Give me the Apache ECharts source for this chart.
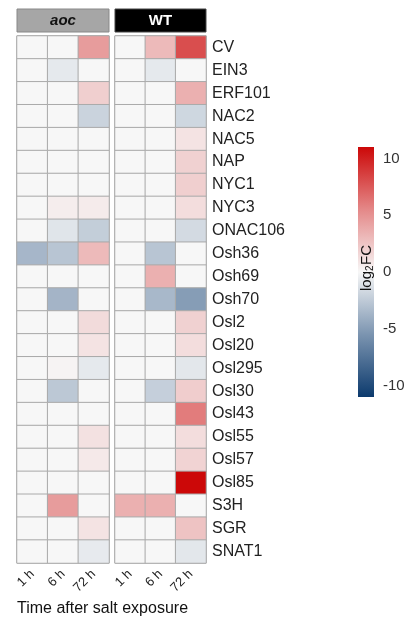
<!DOCTYPE html>
<html><head><meta charset="utf-8">
<script src="https://cdn.jsdelivr.net/npm/echarts@6/dist/echarts.min.js"></script>
<style>html,body{margin:0;padding:0;background:#fff}#c{width:408px;height:626px}</style>
</head><body><div id="c"></div>
<script>
const genes = ["CV","EIN3","ERF101","NAC2","NAC5","NAP","NYC1","NYC3","ONAC106","Osh36","Osh69","Osh70","Osl2","Osl20","Osl295","Osl30","Osl43","Osl55","Osl57","Osl85","S3H","SGR","SNAT1"];
const times = ["1 h","6 h","72 h"];
const panels = ["aoc","WT"];
// log2FC values per gene: [1 h, 6 h, 72 h]
const aocValues = [
  [0,0,4.5],[0,-0.8,0],[0,0,2],[0,0,-2],[0,0,0],[0,0,0],[0,0,0],[0,0.5,0.6],[0,-1,-2.3],
  [-3.6,-2.8,3],[0,0,0],[0,-3.7,0],[0,0,1.4],[0,0,1],[0,0.2,-0.8],[0,-2.6,0],[0,0,0],[0,0,1.1],[0,0,0.7],[0,0,0],[0,4.5,0],[0,0,1],[0,0,-0.7]
];
const wtValues = [
  [0,3,8],[0,-0.8,0],[0,0,3.5],[0,0,-1.8],[0,0,1],[0,0,1.9],[0,0,2],[0,0,1.3],[0,0,-1.6],
  [0,-2.8,0],[0,3.5,0],[0,-3.5,-5],[0,0,1.9],[0,0,1.3],[0,0,-0.9],[0,-2.2,2.1],[0,0,6],[0,0,1.3],[0,0,1.8],[0,0,11],[3.5,3.5,0],[0,0,2.6],[0,0,-0.9]
];
const colorTicks = [-10,-5,0,5,10];
const palette = ['#0c3a6d','#7b94b0','#f7f7f7','#e48888','#cc0808'];

function toData(vals){const d=[];vals.forEach((r,gi)=>r.forEach((v,ti)=>d.push([ti,gi,v])));return d;}

const chart = echarts.init(document.getElementById('c'));
const font = 'Liberation Sans, Arial, sans-serif';
const grids = [
  {left:17, top:36, width:92, height:527, show:true, borderColor:'#999', borderWidth:1},
  {left:115, top:36, width:91, height:527, show:true, borderColor:'#999', borderWidth:1},
  {left:358, top:147, width:16, height:250}
];
const xAxes = [0,1].map(i=>({type:'category', gridIndex:i, data:times, axisLine:{show:false}, axisTick:{show:false}, splitLine:{show:false},
  axisLabel:{rotate:45, fontSize:13, color:'#222', fontFamily:font, margin:9}}));
xAxes.push({type:'value', gridIndex:2, min:0, max:1, show:false});
const yAxes = [
  {type:'category', gridIndex:0, data:genes, inverse:true, axisLine:{show:false}, axisTick:{show:false}, axisLabel:{show:false}},
  {type:'category', gridIndex:1, data:genes, inverse:true, position:'right', axisLine:{show:false}, axisTick:{show:false},
    axisLabel:{fontSize:16, color:'#222', fontFamily:font, margin:6}},
  {type:'value', gridIndex:2, min:-11, max:11, interval:1, position:'right', axisLine:{show:false}, axisTick:{show:false}, splitLine:{show:false},
    axisLabel:{fontSize:15, color:'#333', fontFamily:font, margin:9, formatter:v=>colorTicks.includes(v)?String(v):''}}
];
const cellStyle = {borderColor:'#aaa', borderWidth:1};
chart.setOption({
  animation:false,
  grid:grids, xAxis:xAxes, yAxis:yAxes,
  visualMap:{show:false, type:'continuous', min:-11, max:11, seriesIndex:[0,1], inRange:{color:palette}},
  series:[
    {type:'heatmap', xAxisIndex:0, yAxisIndex:0, data:toData(aocValues), itemStyle:cellStyle},
    {type:'heatmap', xAxisIndex:1, yAxisIndex:1, data:toData(wtValues), itemStyle:cellStyle},
    {type:'custom', xAxisIndex:2, yAxisIndex:2, data:[[0,-11,11]],
      renderItem:(params,api)=>{
        const p0 = api.coord([0, api.value(2)]);
        const p1 = api.coord([1, api.value(1)]);
        return {type:'rect', shape:{x:p0[0], y:p0[1], width:p1[0]-p0[0], height:p1[1]-p0[1]},
          style:{fill:new echarts.graphic.LinearGradient(0,0,0,1, palette.slice().reverse().map((c,i)=>({offset:i/(palette.length-1), color:c})))}};
      }}
  ],
  graphic:[
    {type:'rect', z:100, shape:{x:17, y:9, width:92, height:23}, style:{fill:'#a6a6a6', stroke:'#888', lineWidth:1}},
    {type:'text', z:100, x:63, y:20.5, style:{text:panels[0], fontSize:15, fontWeight:'bold', fontStyle:'italic', fill:'#111', align:'center', verticalAlign:'middle', fontFamily:font}},
    {type:'rect', z:100, shape:{x:115, y:9, width:91, height:23}, style:{fill:'#000', stroke:'#444', lineWidth:1}},
    {type:'text', z:100, x:160.5, y:20.5, style:{text:panels[1], fontSize:15, fontWeight:'bold', fill:'#fff', align:'center', verticalAlign:'middle', fontFamily:font}},
    {type:'text', z:100, x:17, y:601, style:{text:'Time after salt exposure', fontSize:16, fill:'#111', fontFamily:font}},
    {type:'text', z:100, x:367, y:271, rotation:Math.PI/2, style:{text:'log', fontSize:15, fill:'#111', fontFamily:font, align:'right', verticalAlign:'middle'}},
    {type:'text', z:100, x:370, y:271, rotation:Math.PI/2, style:{text:'2', fontSize:10, fill:'#111', fontFamily:font, align:'left', verticalAlign:'middle'}},
    {type:'text', z:100, x:367, y:265, rotation:Math.PI/2, style:{text:'FC', fontSize:15, fill:'#111', fontFamily:font, align:'left', verticalAlign:'middle'}}
  ]
});
</script></body></html>
